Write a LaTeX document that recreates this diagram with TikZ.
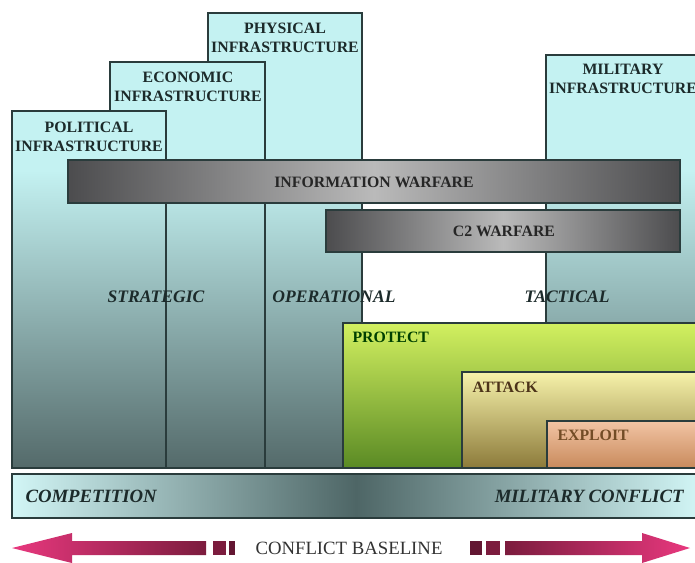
\documentclass[tikz,border=0pt]{standalone}
\usepackage{fontspec}
\setmainfont{Liberation Serif}
\usepackage{tikz}

\definecolor{cyanL}{HTML}{C4F2F2}
\definecolor{slateD}{HTML}{546A6A}
\definecolor{edgeC}{HTML}{2A3C3C}
\definecolor{bandD}{HTML}{4C4C4E}
\definecolor{bandL}{HTML}{BABABA}
\definecolor{protTop}{HTML}{D2F060}
\definecolor{protBot}{HTML}{5A8A24}
\definecolor{attTop}{HTML}{F6F2AA}
\definecolor{attBot}{HTML}{8C7A3A}
\definecolor{expTop}{HTML}{F2C4A4}
\definecolor{expBot}{HTML}{C88A5C}
\definecolor{baseL}{HTML}{D2F6F6}
\definecolor{baseD}{HTML}{4E6666}
\definecolor{pinkA}{HTML}{E8387E}
\definecolor{maroonD}{HTML}{7C1C3E}
\definecolor{txtD}{HTML}{1C2A2A}

\begin{document}
\begin{tikzpicture} [x = 0.03cm, y = -0.03cm, line width = 0.9pt,
   title/.style = {font=\fontsize{13.5}{16}\selectfont\bfseries, text=txtD, align=center, inner sep=0pt},
   phase/.style = {font=\fontsize{15}{17}\selectfont\bfseries\itshape, text=txtD, inner sep=0pt},
   level/.style = {font=\fontsize{13.5}{16}\selectfont\bfseries, inner sep=0pt, anchor=west},
   band/.style = {left color=bandD, right color=bandD, middle color=bandL, draw=edgeC}]
   \clip (0,0) rectangle (695,563);
   \fill[white] (0,0) rectangle (695,563);

   \fill[cyanL] (208,13) rectangle (362,468);
   \shade[top color=cyanL, bottom color=slateD] (208,170) rectangle (362,468);
   \draw[edgeC] (208,13) rectangle (362,468);
   \fill[cyanL] (110,62) rectangle (265,468);
   \shade[top color=cyanL, bottom color=slateD] (110,170) rectangle (265,468);
   \draw[edgeC] (110,62) rectangle (265,468);
   \fill[cyanL] (12,111) rectangle (166,468);
   \shade[top color=cyanL, bottom color=slateD] (12,170) rectangle (166,468);
   \draw[edgeC] (12,111) rectangle (166,468);
   \fill[cyanL] (546,55) rectangle (695,468);
   \shade[top color=cyanL, bottom color=slateD] (546,170) rectangle (695,468);
   \draw[edgeC] (695,55) -- (546,55) -- (546,468);

   \node (phy)[title] at (285,38) {PHYSICAL\\INFRASTRUCTURE};
   \node (eco)[title] at (188,87) {ECONOMIC\\INFRASTRUCTURE};
   \node (pol)[title] at (89,137) {POLITICAL\\INFRASTRUCTURE};
   \node (mil)[title] at (623,79) {MILITARY\\INFRASTRUCTURE};

   \shadedraw[band] (68,160) rectangle (680,203);
   \node (iw)[title, text=black!85] at (374,182) {INFORMATION WARFARE};
   \shadedraw[band] (326,210) rectangle (680,252);
   \node (c2)[title, text=black!85] at (504,231) {C2 WARFARE};

   \node (strat)[phase] at (156,297) {STRATEGIC};
   \node (oper)[phase] at (334,297) {OPERATIONAL};
   \node (tact)[phase] at (567,297) {TACTICAL};

   \shadedraw[top color=protTop, bottom color=protBot, draw=edgeC] (343,323) rectangle (700,468);
   \node (prot)[level, text=green!25!black] at (352,337) {PROTECT};
   \shadedraw[top color=attTop, bottom color=attBot, draw=edgeC] (462,372) rectangle (700,468);
   \node (att)[level, text=brown!40!black] at (472,387) {ATTACK};
   \shadedraw[top color=expTop, bottom color=expBot, draw=edgeC] (547,421) rectangle (700,468);
   \node (expl)[level, text=brown!60!black] at (557,435) {EXPLOIT};

   \shadedraw[left color=baseL, right color=baseL, middle color=baseD, draw=edgeC] (12,474) rectangle (700,518);
   \node (comp)[phase, font=\fontsize{16}{18}\selectfont\bfseries\itshape, anchor=west] at (25,496) {COMPETITION};
   \node (milc)[phase, font=\fontsize{16}{18}\selectfont\bfseries\itshape, anchor=east] at (684,496) {MILITARY CONFLICT};

   \shade[left color=pinkA, right color=maroonD] (12,548) -- (72,533) -- (72,541) -- (206,541) -- (206,555) -- (72,555) -- (72,563) -- cycle;
   \shade[left color=maroonD, right color=pinkA] (505,541) -- (642,541) -- (642,533) -- (690,548) -- (642,563) -- (642,555) -- (505,555) -- cycle;
   \fill[maroonD] (213,541) rectangle (226,555);
   \fill[maroonD!80!black] (229,541) rectangle (235,555);
   \fill[maroonD!80!black] (470,541) rectangle (482,555);
   \fill[maroonD] (486,541) rectangle (500,555);
   \node (base)[font=\fontsize{16}{18}\selectfont, text=black!80, inner sep=0pt] at (349,548) {CONFLICT BASELINE};
\end{tikzpicture}
\end{document}
